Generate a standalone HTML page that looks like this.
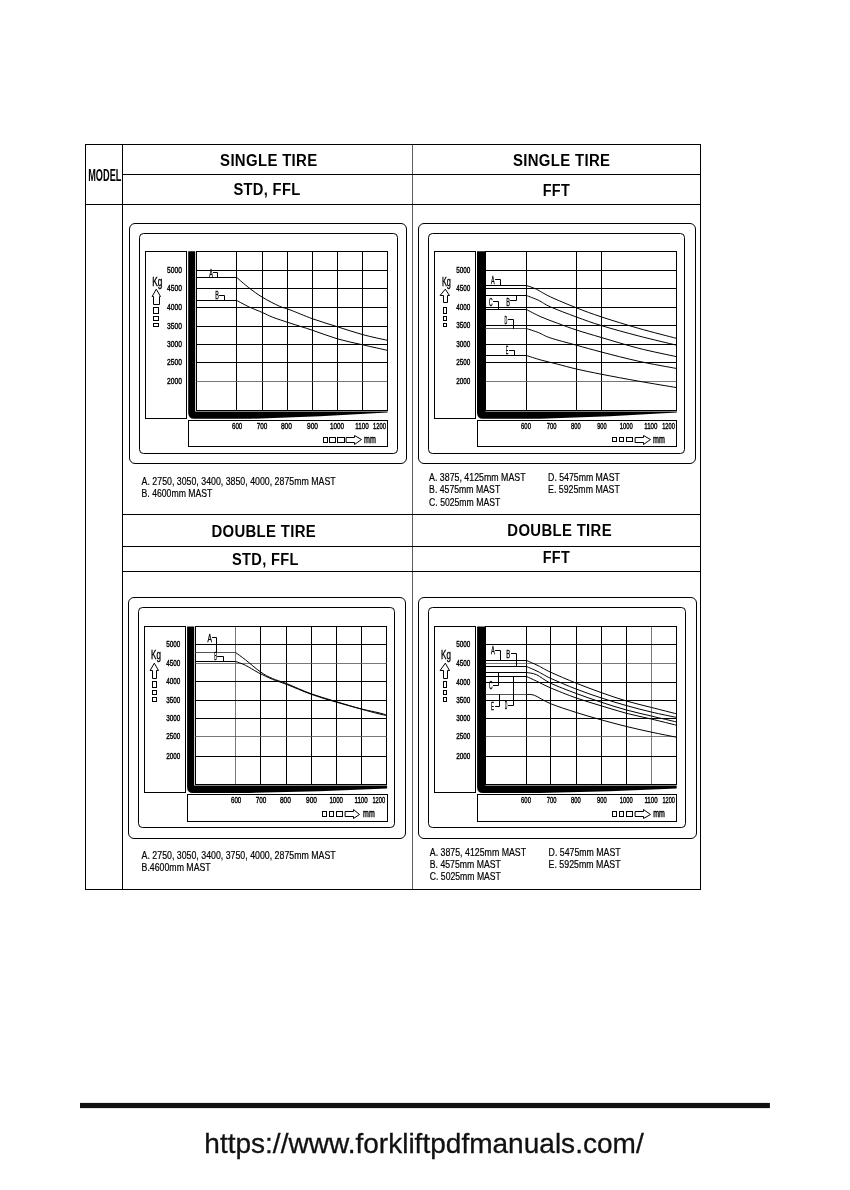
<!DOCTYPE html>
<html lang="en">
<head>
<meta charset="utf-8">
<title>Load capacity charts</title>
<style>
html,body{margin:0;padding:0;background:#fff;}
body{width:850px;height:1190px;overflow:hidden;position:relative;font-family:"Liberation Sans",sans-serif;}
svg{position:absolute;left:0;top:0;display:block;}
svg text{font-family:"Liberation Sans",sans-serif;}
</style>
</head>
<body>
<svg width="850" height="1190" viewBox="0 0 850 1190">

<rect x="85.50" y="144.50" width="615.00" height="745.00" fill="none" stroke="#000" stroke-width="1.0"/>
<line x1="122.50" y1="144.40" x2="122.50" y2="889.40" stroke="#000" stroke-width="1.0"/>
<line x1="412.50" y1="144.40" x2="412.50" y2="889.40" stroke="#333" stroke-width="0.8"/>
<line x1="122.60" y1="174.50" x2="700.70" y2="174.50" stroke="#000" stroke-width="1.0"/>
<line x1="85.30" y1="204.50" x2="700.70" y2="204.50" stroke="#000" stroke-width="1.0"/>
<line x1="122.60" y1="514.50" x2="700.70" y2="514.50" stroke="#000" stroke-width="1.0"/>
<line x1="122.60" y1="546.50" x2="700.70" y2="546.50" stroke="#000" stroke-width="1.0"/>
<line x1="122.60" y1="571.50" x2="700.70" y2="571.50" stroke="#000" stroke-width="1.0"/>
<text x="88.20" y="180.80" font-size="16.6" font-weight="bold" fill="#000" textLength="33.20" lengthAdjust="spacingAndGlyphs">MODEL</text>
<text x="220.10" y="165.90" font-size="15.8" font-weight="bold" fill="#000" textLength="97.40" lengthAdjust="spacingAndGlyphs" letter-spacing="0.35">SINGLE TIRE</text>
<text x="233.40" y="195.30" font-size="15.8" font-weight="bold" fill="#000" textLength="67.10" lengthAdjust="spacingAndGlyphs" letter-spacing="0.35">STD, FFL</text>
<text x="513.00" y="165.90" font-size="15.8" font-weight="bold" fill="#000" textLength="97.30" lengthAdjust="spacingAndGlyphs" letter-spacing="0.35">SINGLE TIRE</text>
<text x="542.70" y="195.50" font-size="15.8" font-weight="bold" fill="#000" textLength="27.40" lengthAdjust="spacingAndGlyphs" letter-spacing="0.35">FFT</text>
<text x="211.40" y="537.20" font-size="15.8" font-weight="bold" fill="#000" textLength="104.60" lengthAdjust="spacingAndGlyphs" letter-spacing="0.35">DOUBLE TIRE</text>
<text x="232.00" y="564.80" font-size="15.8" font-weight="bold" fill="#000" textLength="66.70" lengthAdjust="spacingAndGlyphs" letter-spacing="0.35">STD, FFL</text>
<text x="507.30" y="536.40" font-size="15.8" font-weight="bold" fill="#000" textLength="104.60" lengthAdjust="spacingAndGlyphs" letter-spacing="0.35">DOUBLE TIRE</text>
<text x="542.70" y="562.70" font-size="15.8" font-weight="bold" fill="#000" textLength="27.40" lengthAdjust="spacingAndGlyphs" letter-spacing="0.35">FFT</text>
<rect x="129.50" y="223.50" width="277.00" height="240.00" rx="5.5" ry="5.5" fill="none" stroke="#000" stroke-width="1.0"/>
<rect x="139.50" y="233.50" width="258.00" height="220.00" rx="4" ry="4" fill="none" stroke="#000" stroke-width="1.0"/>
<rect x="145.50" y="251.50" width="41.00" height="167.00" fill="none" stroke="#000" stroke-width="1.0"/>
<rect x="188.50" y="420.50" width="199.00" height="26.00" fill="none" stroke="#000" stroke-width="1.0"/>
<rect x="196.50" y="251.50" width="191.00" height="159.00" fill="none" stroke="#000" stroke-width="1.0"/>
<line x1="236.50" y1="251.50" x2="236.50" y2="410.40" stroke="#000" stroke-width="1.0"/>
<line x1="262.50" y1="251.50" x2="262.50" y2="410.40" stroke="#000" stroke-width="1.0"/>
<line x1="287.50" y1="251.50" x2="287.50" y2="410.40" stroke="#000" stroke-width="1.0"/>
<line x1="312.50" y1="251.50" x2="312.50" y2="410.40" stroke="#000" stroke-width="1.0"/>
<line x1="337.50" y1="251.50" x2="337.50" y2="410.40" stroke="#000" stroke-width="1.0"/>
<line x1="362.50" y1="251.50" x2="362.50" y2="410.40" stroke="#000" stroke-width="1.0"/>
<line x1="196.40" y1="270.50" x2="387.30" y2="270.50" stroke="#000" stroke-width="1.0"/>
<line x1="196.40" y1="288.50" x2="387.30" y2="288.50" stroke="#000" stroke-width="1.0"/>
<line x1="196.40" y1="307.50" x2="387.30" y2="307.50" stroke="#000" stroke-width="1.0"/>
<line x1="196.40" y1="326.50" x2="387.30" y2="326.50" stroke="#000" stroke-width="1.0"/>
<line x1="196.40" y1="344.50" x2="387.30" y2="344.50" stroke="#000" stroke-width="1.0"/>
<line x1="196.40" y1="362.50" x2="387.30" y2="362.50" stroke="#000" stroke-width="1.0"/>
<line x1="196.40" y1="381.50" x2="387.30" y2="381.50" stroke="#555" stroke-width="0.8"/>
<path d="M188.20 251.30 L195.20 251.30 L195.20 411.50 L387.60 411.50 L387.60 412.40 L320.18 416.30 L250.00 418.80 L194.20 418.80 Q188.20 418.80 188.20 412.80 Z" fill="#000" stroke="none"/>
<text x="167.10" y="272.60" font-size="8.9" font-weight="normal" fill="#000" textLength="14.90" lengthAdjust="spacingAndGlyphs" stroke="#000" stroke-width="0.4">5000</text>
<text x="167.10" y="291.10" font-size="8.9" font-weight="normal" fill="#000" textLength="14.90" lengthAdjust="spacingAndGlyphs" stroke="#000" stroke-width="0.4">4500</text>
<text x="167.10" y="309.90" font-size="8.9" font-weight="normal" fill="#000" textLength="14.90" lengthAdjust="spacingAndGlyphs" stroke="#000" stroke-width="0.4">4000</text>
<text x="167.10" y="329.10" font-size="8.9" font-weight="normal" fill="#000" textLength="14.90" lengthAdjust="spacingAndGlyphs" stroke="#000" stroke-width="0.4">3500</text>
<text x="167.10" y="347.10" font-size="8.9" font-weight="normal" fill="#000" textLength="14.90" lengthAdjust="spacingAndGlyphs" stroke="#000" stroke-width="0.4">3000</text>
<text x="167.10" y="365.00" font-size="8.9" font-weight="normal" fill="#000" textLength="14.90" lengthAdjust="spacingAndGlyphs" stroke="#000" stroke-width="0.4">2500</text>
<text x="167.10" y="384.00" font-size="8.9" font-weight="normal" fill="#000" textLength="14.90" lengthAdjust="spacingAndGlyphs" stroke="#000" stroke-width="0.4">2000</text>
<text x="152.30" y="285.60" font-size="12.6" font-weight="normal" fill="#000" textLength="10.10" lengthAdjust="spacingAndGlyphs" stroke="#000" stroke-width="0.4">Kg</text>
<path d="M156.50 289.50 L160.50 296.50 L159.50 296.50 L159.50 304.50 L153.50 304.50 L153.50 296.50 L152.50 296.50 Z" fill="none" stroke="#000" stroke-width="1" stroke-linejoin="round" stroke-linecap="round"/>
<rect x="153.50" y="307.50" width="5.00" height="6.00" fill="none" stroke="#000" stroke-width="1"/>
<rect x="153.50" y="316.50" width="5.00" height="4.00" fill="none" stroke="#000" stroke-width="1"/>
<rect x="153.50" y="323.50" width="5.00" height="3.00" fill="none" stroke="#000" stroke-width="1"/>
<text x="232.00" y="428.50" font-size="8.7" font-weight="normal" fill="#000" textLength="10.30" lengthAdjust="spacingAndGlyphs" stroke="#000" stroke-width="0.4">600</text>
<text x="256.80" y="428.50" font-size="8.7" font-weight="normal" fill="#000" textLength="10.60" lengthAdjust="spacingAndGlyphs" stroke="#000" stroke-width="0.4">700</text>
<text x="280.90" y="428.50" font-size="8.7" font-weight="normal" fill="#000" textLength="11.10" lengthAdjust="spacingAndGlyphs" stroke="#000" stroke-width="0.4">800</text>
<text x="307.00" y="428.50" font-size="8.7" font-weight="normal" fill="#000" textLength="11.00" lengthAdjust="spacingAndGlyphs" stroke="#000" stroke-width="0.4">900</text>
<text x="330.00" y="428.50" font-size="8.7" font-weight="normal" fill="#000" textLength="14.10" lengthAdjust="spacingAndGlyphs" stroke="#000" stroke-width="0.4">1000</text>
<text x="355.30" y="428.50" font-size="8.7" font-weight="normal" fill="#000" textLength="13.50" lengthAdjust="spacingAndGlyphs" stroke="#000" stroke-width="0.4">1100</text>
<text x="373.00" y="428.50" font-size="8.7" font-weight="normal" fill="#000" textLength="12.90" lengthAdjust="spacingAndGlyphs" stroke="#000" stroke-width="0.4">1200</text>
<rect x="323.50" y="437.50" width="4.00" height="5.00" fill="none" stroke="#000" stroke-width="1"/>
<rect x="329.50" y="437.50" width="6.00" height="5.00" fill="none" stroke="#000" stroke-width="1"/>
<rect x="337.50" y="437.50" width="7.00" height="5.00" fill="none" stroke="#000" stroke-width="1"/>
<path d="M346.50 437.50 L354.50 437.50 L354.50 435.50 L361.50 439.50 L354.50 444.50 L354.50 442.50 L346.50 442.50 Z" fill="none" stroke="#000" stroke-width="1" stroke-linejoin="round" stroke-linecap="round"/>
<text x="364.10" y="442.90" font-size="10.4" font-weight="normal" fill="#000" textLength="11.80" lengthAdjust="spacingAndGlyphs" stroke="#000" stroke-width="0.45">mm</text>
<line x1="196.40" y1="277.50" x2="236.80" y2="277.50" stroke="#000" stroke-width="1.0"/>
<path d="M236.80 277.50 C238.80 279.20 244.50 284.38 248.80 287.70 C253.10 291.02 257.50 294.32 262.60 297.40 C267.70 300.48 274.83 304.13 279.40 306.20 C283.97 308.27 284.47 307.70 290.00 309.80 C295.53 311.90 304.67 315.97 312.60 318.80 C320.53 321.63 329.27 324.17 337.60 326.80 C345.93 329.43 354.32 332.35 362.60 334.60 C370.88 336.85 383.18 339.35 387.30 340.30" fill="none" stroke="#000" stroke-width="1.0"/>
<line x1="196.40" y1="300.50" x2="236.80" y2="300.50" stroke="#000" stroke-width="1.0"/>
<path d="M236.80 300.50 C238.80 301.55 244.50 304.78 248.80 306.80 C253.10 308.82 258.67 310.88 262.60 312.60 C266.53 314.32 267.83 315.35 272.40 317.10 C276.97 318.85 283.30 320.90 290.00 323.10 C296.70 325.30 304.67 327.67 312.60 330.30 C320.53 332.93 329.27 336.48 337.60 338.90 C345.93 341.32 354.32 342.90 362.60 344.80 C370.88 346.70 383.18 349.38 387.30 350.30" fill="none" stroke="#000" stroke-width="1.0"/>
<text x="209.20" y="276.60" font-size="10.6" font-weight="normal" fill="#000" textLength="3.60" lengthAdjust="spacingAndGlyphs" stroke="#000" stroke-width="0.35">A</text>
<path d="M213.50 272.50 L217.50 272.50 L217.50 277.50" fill="none" stroke="#000" stroke-width="1" stroke-linejoin="round" stroke-linecap="round"/>
<text x="215.30" y="299.00" font-size="10.6" font-weight="normal" fill="#000" textLength="3.60" lengthAdjust="spacingAndGlyphs" stroke="#000" stroke-width="0.35">B</text>
<path d="M219.50 295.50 L224.50 295.50 L224.50 300.50" fill="none" stroke="#000" stroke-width="1" stroke-linejoin="round" stroke-linecap="round"/>
<rect x="418.50" y="223.50" width="277.00" height="240.00" rx="5.5" ry="5.5" fill="none" stroke="#000" stroke-width="1.0"/>
<rect x="428.50" y="233.50" width="256.00" height="220.00" rx="4" ry="4" fill="none" stroke="#000" stroke-width="1.0"/>
<rect x="434.50" y="251.50" width="41.00" height="167.00" fill="none" stroke="#000" stroke-width="1.0"/>
<rect x="477.50" y="420.50" width="199.00" height="26.00" fill="none" stroke="#000" stroke-width="1.0"/>
<rect x="485.50" y="251.50" width="191.00" height="159.00" fill="none" stroke="#000" stroke-width="1.0"/>
<line x1="526.50" y1="251.50" x2="526.50" y2="410.30" stroke="#000" stroke-width="1.0"/>
<line x1="576.50" y1="251.50" x2="576.50" y2="410.30" stroke="#000" stroke-width="1.0"/>
<line x1="601.50" y1="251.50" x2="601.50" y2="410.30" stroke="#000" stroke-width="1.0"/>
<line x1="485.40" y1="270.50" x2="676.60" y2="270.50" stroke="#000" stroke-width="1.0"/>
<line x1="485.40" y1="288.50" x2="676.60" y2="288.50" stroke="#000" stroke-width="1.0"/>
<line x1="485.40" y1="307.50" x2="676.60" y2="307.50" stroke="#000" stroke-width="1.0"/>
<line x1="485.40" y1="325.50" x2="676.60" y2="325.50" stroke="#000" stroke-width="1.0"/>
<line x1="485.40" y1="344.50" x2="676.60" y2="344.50" stroke="#000" stroke-width="1.0"/>
<line x1="485.40" y1="362.50" x2="676.60" y2="362.50" stroke="#000" stroke-width="1.0"/>
<line x1="485.40" y1="381.50" x2="676.60" y2="381.50" stroke="#555" stroke-width="0.8"/>
<path d="M477.00 251.30 L485.40 251.30 L485.40 411.50 L676.90 411.50 L676.90 412.40 L609.82 416.30 L540.00 418.80 L483.00 418.80 Q477.00 418.80 477.00 412.80 Z" fill="#000" stroke="none"/>
<text x="456.20" y="272.80" font-size="8.9" font-weight="normal" fill="#000" textLength="14.10" lengthAdjust="spacingAndGlyphs" stroke="#000" stroke-width="0.4">5000</text>
<text x="456.20" y="290.90" font-size="8.9" font-weight="normal" fill="#000" textLength="14.10" lengthAdjust="spacingAndGlyphs" stroke="#000" stroke-width="0.4">4500</text>
<text x="456.20" y="309.90" font-size="8.9" font-weight="normal" fill="#000" textLength="14.10" lengthAdjust="spacingAndGlyphs" stroke="#000" stroke-width="0.4">4000</text>
<text x="456.20" y="328.00" font-size="8.9" font-weight="normal" fill="#000" textLength="14.10" lengthAdjust="spacingAndGlyphs" stroke="#000" stroke-width="0.4">3500</text>
<text x="456.20" y="347.00" font-size="8.9" font-weight="normal" fill="#000" textLength="14.10" lengthAdjust="spacingAndGlyphs" stroke="#000" stroke-width="0.4">3000</text>
<text x="456.20" y="364.80" font-size="8.9" font-weight="normal" fill="#000" textLength="14.10" lengthAdjust="spacingAndGlyphs" stroke="#000" stroke-width="0.4">2500</text>
<text x="456.20" y="384.00" font-size="8.9" font-weight="normal" fill="#000" textLength="14.10" lengthAdjust="spacingAndGlyphs" stroke="#000" stroke-width="0.4">2000</text>
<text x="442.00" y="285.60" font-size="12.6" font-weight="normal" fill="#000" textLength="8.90" lengthAdjust="spacingAndGlyphs" stroke="#000" stroke-width="0.4">Kg</text>
<path d="M445.50 289.50 L449.50 295.50 L447.50 295.50 L447.50 302.50 L443.50 302.50 L443.50 295.50 L440.50 295.50 Z" fill="none" stroke="#000" stroke-width="1" stroke-linejoin="round" stroke-linecap="round"/>
<rect x="443.50" y="307.50" width="3.00" height="6.00" fill="none" stroke="#000" stroke-width="1"/>
<rect x="443.50" y="316.50" width="3.00" height="4.00" fill="none" stroke="#000" stroke-width="1"/>
<rect x="443.50" y="323.50" width="3.00" height="3.00" fill="none" stroke="#000" stroke-width="1"/>
<text x="521.10" y="428.50" font-size="8.7" font-weight="normal" fill="#000" textLength="9.80" lengthAdjust="spacingAndGlyphs" stroke="#000" stroke-width="0.4">600</text>
<text x="546.80" y="428.50" font-size="8.7" font-weight="normal" fill="#000" textLength="9.70" lengthAdjust="spacingAndGlyphs" stroke="#000" stroke-width="0.4">700</text>
<text x="571.00" y="428.50" font-size="8.7" font-weight="normal" fill="#000" textLength="9.70" lengthAdjust="spacingAndGlyphs" stroke="#000" stroke-width="0.4">800</text>
<text x="597.20" y="428.50" font-size="8.7" font-weight="normal" fill="#000" textLength="9.50" lengthAdjust="spacingAndGlyphs" stroke="#000" stroke-width="0.4">900</text>
<text x="619.70" y="428.50" font-size="8.7" font-weight="normal" fill="#000" textLength="13.00" lengthAdjust="spacingAndGlyphs" stroke="#000" stroke-width="0.4">1000</text>
<text x="644.20" y="428.50" font-size="8.7" font-weight="normal" fill="#000" textLength="13.30" lengthAdjust="spacingAndGlyphs" stroke="#000" stroke-width="0.4">1100</text>
<text x="662.20" y="428.50" font-size="8.7" font-weight="normal" fill="#000" textLength="12.60" lengthAdjust="spacingAndGlyphs" stroke="#000" stroke-width="0.4">1200</text>
<rect x="612.50" y="437.50" width="4.00" height="4.00" fill="none" stroke="#000" stroke-width="1"/>
<rect x="619.50" y="437.50" width="4.00" height="4.00" fill="none" stroke="#000" stroke-width="1"/>
<rect x="626.50" y="437.50" width="6.00" height="4.00" fill="none" stroke="#000" stroke-width="1"/>
<path d="M635.50 437.50 L643.50 437.50 L643.50 435.50 L650.50 439.50 L643.50 444.50 L643.50 442.50 L635.50 442.50 Z" fill="none" stroke="#000" stroke-width="1" stroke-linejoin="round" stroke-linecap="round"/>
<text x="653.00" y="443.00" font-size="10.4" font-weight="normal" fill="#000" textLength="11.80" lengthAdjust="spacingAndGlyphs" stroke="#000" stroke-width="0.45">mm</text>
<line x1="485.40" y1="285.50" x2="526.40" y2="285.50" stroke="#000" stroke-width="1.0"/>
<path d="M526.40 285.50 C528.03 286.10 532.22 287.22 536.20 289.10 C540.18 290.98 543.60 293.68 550.30 296.80 C557.00 299.92 567.83 304.43 576.40 307.80 C584.97 311.17 591.30 313.57 601.70 317.00 C612.10 320.43 626.32 324.83 638.80 328.40 C651.28 331.97 670.30 336.73 676.60 338.40" fill="none" stroke="#000" stroke-width="1.0"/>
<line x1="485.40" y1="295.50" x2="526.40" y2="295.50" stroke="#000" stroke-width="1.0"/>
<path d="M526.40 295.50 C528.42 296.30 534.52 298.42 538.50 300.30 C542.48 302.18 543.98 304.02 550.30 306.80 C556.62 309.58 567.83 313.85 576.40 317.00 C584.97 320.15 591.30 322.53 601.70 325.70 C612.10 328.87 626.32 332.75 638.80 336.00 C651.28 339.25 670.30 343.67 676.60 345.20" fill="none" stroke="#000" stroke-width="1.0"/>
<line x1="485.40" y1="309.50" x2="526.40" y2="309.50" stroke="#000" stroke-width="1.0"/>
<path d="M526.40 309.50 C528.82 310.72 535.73 314.52 540.90 316.80 C546.07 319.08 551.48 321.00 557.40 323.20 C563.32 325.40 569.02 327.60 576.40 330.00 C583.78 332.40 591.30 334.55 601.70 337.60 C612.10 340.65 626.32 345.12 638.80 348.30 C651.28 351.48 670.30 355.30 676.60 356.70" fill="none" stroke="#000" stroke-width="1.0"/>
<line x1="485.40" y1="328.50" x2="526.40" y2="328.50" stroke="#555" stroke-width="1.0"/>
<path d="M526.40 328.50 C528.42 329.18 534.52 331.03 538.50 332.60 C542.48 334.17 543.98 335.80 550.30 337.90 C556.62 340.00 567.83 342.83 576.40 345.20 C584.97 347.57 591.30 349.42 601.70 352.10 C612.10 354.78 626.32 358.57 638.80 361.30 C651.28 364.03 670.30 367.30 676.60 368.50" fill="none" stroke="#000" stroke-width="1.0"/>
<line x1="485.40" y1="355.50" x2="526.40" y2="355.50" stroke="#000" stroke-width="1.0"/>
<path d="M526.40 355.50 C528.82 356.25 535.73 358.57 540.90 360.00 C546.07 361.43 551.48 362.60 557.40 364.10 C563.32 365.60 569.02 367.30 576.40 369.00 C583.78 370.70 591.30 372.27 601.70 374.30 C612.10 376.33 626.32 378.98 638.80 381.20 C651.28 383.42 670.30 386.53 676.60 387.60" fill="none" stroke="#000" stroke-width="1.0"/>
<text x="491.00" y="283.80" font-size="10.6" font-weight="normal" fill="#000" textLength="3.60" lengthAdjust="spacingAndGlyphs" stroke="#000" stroke-width="0.35">A</text>
<path d="M495.50 279.50 L500.50 279.50 L500.50 285.50" fill="none" stroke="#000" stroke-width="1" stroke-linejoin="round" stroke-linecap="round"/>
<text x="489.10" y="305.60" font-size="10.6" font-weight="normal" fill="#000" textLength="3.60" lengthAdjust="spacingAndGlyphs" stroke="#000" stroke-width="0.35">C</text>
<path d="M493.50 301.50 L498.50 301.50 L498.50 309.50" fill="none" stroke="#000" stroke-width="1" stroke-linejoin="round" stroke-linecap="round"/>
<text x="506.20" y="305.60" font-size="10.6" font-weight="normal" fill="#000" textLength="3.70" lengthAdjust="spacingAndGlyphs" stroke="#000" stroke-width="0.35">B</text>
<path d="M510.50 300.50 L516.50 300.50 L516.50 295.50" fill="none" stroke="#000" stroke-width="1" stroke-linejoin="round" stroke-linecap="round"/>
<text x="504.60" y="323.80" font-size="10.6" font-weight="normal" fill="#000" textLength="2.80" lengthAdjust="spacingAndGlyphs" stroke="#000" stroke-width="0.35">D</text>
<path d="M508.50 319.50 L513.50 319.50 L513.50 328.50" fill="none" stroke="#000" stroke-width="1" stroke-linejoin="round" stroke-linecap="round"/>
<text x="505.80" y="354.00" font-size="10.6" font-weight="normal" fill="#000" textLength="2.60" lengthAdjust="spacingAndGlyphs" stroke="#000" stroke-width="0.35">E</text>
<path d="M509.50 350.50 L514.50 350.50 L514.50 355.50" fill="none" stroke="#000" stroke-width="1" stroke-linejoin="round" stroke-linecap="round"/>
<rect x="128.50" y="597.50" width="277.00" height="241.00" rx="5.5" ry="5.5" fill="none" stroke="#000" stroke-width="1.0"/>
<rect x="138.50" y="607.50" width="256.00" height="220.00" rx="4" ry="4" fill="none" stroke="#000" stroke-width="1.0"/>
<rect x="144.50" y="626.50" width="41.00" height="166.00" fill="none" stroke="#000" stroke-width="1.0"/>
<rect x="187.50" y="794.50" width="200.00" height="27.00" fill="none" stroke="#000" stroke-width="1.0"/>
<rect x="195.50" y="626.50" width="191.00" height="158.00" fill="none" stroke="#000" stroke-width="1.0"/>
<line x1="235.50" y1="626.50" x2="235.50" y2="784.20" stroke="#555" stroke-width="0.8"/>
<line x1="260.50" y1="626.50" x2="260.50" y2="784.20" stroke="#000" stroke-width="1.0"/>
<line x1="286.50" y1="626.50" x2="286.50" y2="784.20" stroke="#000" stroke-width="1.0"/>
<line x1="311.50" y1="626.50" x2="311.50" y2="784.20" stroke="#000" stroke-width="1.0"/>
<line x1="336.50" y1="626.50" x2="336.50" y2="784.20" stroke="#000" stroke-width="1.0"/>
<line x1="361.50" y1="626.50" x2="361.50" y2="784.20" stroke="#000" stroke-width="1.0"/>
<line x1="195.30" y1="644.50" x2="386.80" y2="644.50" stroke="#000" stroke-width="1.0"/>
<line x1="195.30" y1="663.50" x2="386.80" y2="663.50" stroke="#555" stroke-width="0.8"/>
<line x1="195.30" y1="681.50" x2="386.80" y2="681.50" stroke="#000" stroke-width="1.0"/>
<line x1="195.30" y1="700.50" x2="386.80" y2="700.50" stroke="#000" stroke-width="1.0"/>
<line x1="195.30" y1="718.50" x2="386.80" y2="718.50" stroke="#000" stroke-width="1.0"/>
<line x1="195.30" y1="736.50" x2="386.80" y2="736.50" stroke="#555" stroke-width="0.8"/>
<line x1="195.30" y1="756.50" x2="386.80" y2="756.50" stroke="#000" stroke-width="1.0"/>
<path d="M187.10 626.50 L194.20 626.50 L194.20 785.60 L387.10 785.60 L387.10 788.40 L319.43 791.14 L249.00 792.90 L193.10 792.90 Q187.10 792.90 187.10 786.90 Z" fill="#000" stroke="none"/>
<text x="166.20" y="646.70" font-size="8.9" font-weight="normal" fill="#000" textLength="14.10" lengthAdjust="spacingAndGlyphs" stroke="#000" stroke-width="0.4">5000</text>
<text x="166.20" y="665.70" font-size="8.9" font-weight="normal" fill="#000" textLength="14.10" lengthAdjust="spacingAndGlyphs" stroke="#000" stroke-width="0.4">4500</text>
<text x="166.20" y="684.10" font-size="8.9" font-weight="normal" fill="#000" textLength="14.10" lengthAdjust="spacingAndGlyphs" stroke="#000" stroke-width="0.4">4000</text>
<text x="166.20" y="703.00" font-size="8.9" font-weight="normal" fill="#000" textLength="14.10" lengthAdjust="spacingAndGlyphs" stroke="#000" stroke-width="0.4">3500</text>
<text x="166.20" y="721.00" font-size="8.9" font-weight="normal" fill="#000" textLength="14.10" lengthAdjust="spacingAndGlyphs" stroke="#000" stroke-width="0.4">3000</text>
<text x="166.20" y="739.20" font-size="8.9" font-weight="normal" fill="#000" textLength="14.10" lengthAdjust="spacingAndGlyphs" stroke="#000" stroke-width="0.4">2500</text>
<text x="166.20" y="759.00" font-size="8.9" font-weight="normal" fill="#000" textLength="14.10" lengthAdjust="spacingAndGlyphs" stroke="#000" stroke-width="0.4">2000</text>
<text x="151.10" y="659.40" font-size="12.6" font-weight="normal" fill="#000" textLength="9.80" lengthAdjust="spacingAndGlyphs" stroke="#000" stroke-width="0.4">Kg</text>
<path d="M154.50 663.50 L158.50 670.50 L156.50 670.50 L156.50 678.50 L152.50 678.50 L152.50 670.50 L150.50 670.50 Z" fill="none" stroke="#000" stroke-width="1" stroke-linejoin="round" stroke-linecap="round"/>
<rect x="152.50" y="681.50" width="4.00" height="6.00" fill="none" stroke="#000" stroke-width="1"/>
<rect x="152.50" y="690.50" width="4.00" height="4.00" fill="none" stroke="#000" stroke-width="1"/>
<rect x="152.50" y="697.50" width="4.00" height="4.00" fill="none" stroke="#000" stroke-width="1"/>
<text x="231.00" y="802.80" font-size="8.7" font-weight="normal" fill="#000" textLength="10.30" lengthAdjust="spacingAndGlyphs" stroke="#000" stroke-width="0.4">600</text>
<text x="255.80" y="802.80" font-size="8.7" font-weight="normal" fill="#000" textLength="10.60" lengthAdjust="spacingAndGlyphs" stroke="#000" stroke-width="0.4">700</text>
<text x="279.90" y="802.80" font-size="8.7" font-weight="normal" fill="#000" textLength="11.10" lengthAdjust="spacingAndGlyphs" stroke="#000" stroke-width="0.4">800</text>
<text x="306.00" y="802.80" font-size="8.7" font-weight="normal" fill="#000" textLength="11.00" lengthAdjust="spacingAndGlyphs" stroke="#000" stroke-width="0.4">900</text>
<text x="329.40" y="802.80" font-size="8.7" font-weight="normal" fill="#000" textLength="13.60" lengthAdjust="spacingAndGlyphs" stroke="#000" stroke-width="0.4">1000</text>
<text x="354.40" y="802.80" font-size="8.7" font-weight="normal" fill="#000" textLength="13.40" lengthAdjust="spacingAndGlyphs" stroke="#000" stroke-width="0.4">1100</text>
<text x="372.40" y="802.80" font-size="8.7" font-weight="normal" fill="#000" textLength="12.70" lengthAdjust="spacingAndGlyphs" stroke="#000" stroke-width="0.4">1200</text>
<rect x="322.50" y="811.50" width="4.00" height="5.00" fill="none" stroke="#000" stroke-width="1"/>
<rect x="329.50" y="811.50" width="4.00" height="5.00" fill="none" stroke="#000" stroke-width="1"/>
<rect x="336.50" y="811.50" width="6.00" height="5.00" fill="none" stroke="#000" stroke-width="1"/>
<path d="M345.50 811.50 L353.50 811.50 L353.50 809.50 L359.50 814.50 L353.50 818.50 L353.50 816.50 L345.50 816.50 Z" fill="none" stroke="#000" stroke-width="1" stroke-linejoin="round" stroke-linecap="round"/>
<text x="363.10" y="817.20" font-size="10.4" font-weight="normal" fill="#000" textLength="11.60" lengthAdjust="spacingAndGlyphs" stroke="#000" stroke-width="0.45">mm</text>
<line x1="195.30" y1="652.50" x2="235.60" y2="652.50" stroke="#555" stroke-width="1.0"/>
<path d="M235.60 652.50 C237.22 653.70 241.13 656.45 245.30 659.70 C249.47 662.95 256.08 668.87 260.60 672.00 C265.12 675.13 268.07 676.57 272.40 678.50 C276.73 680.43 280.08 681.03 286.60 683.60 C293.12 686.17 303.18 690.88 311.50 693.90 C319.82 696.92 328.15 699.15 336.50 701.70 C344.85 704.25 354.68 707.22 361.60 709.20 C368.52 711.18 373.80 712.53 378.00 713.60 C382.20 714.67 385.33 715.27 386.80 715.60" fill="none" stroke="#000" stroke-width="1.0"/>
<line x1="195.30" y1="661.50" x2="235.60" y2="661.50" stroke="#000" stroke-width="1.0"/>
<path d="M235.60 661.50 C237.22 662.12 241.53 663.35 245.30 665.20 C249.07 667.05 253.68 670.25 258.20 672.60 C262.72 674.95 267.67 677.33 272.40 679.30 C277.13 681.27 280.08 681.88 286.60 684.40 C293.12 686.92 303.18 691.43 311.50 694.40 C319.82 697.37 328.15 699.77 336.50 702.20 C344.85 704.63 354.68 707.27 361.60 709.00 C368.52 710.73 373.80 711.60 378.00 712.60 C382.20 713.60 385.33 714.60 386.80 715.00" fill="none" stroke="#000" stroke-width="1.0"/>
<text x="207.60" y="641.80" font-size="10.6" font-weight="normal" fill="#000" textLength="4.40" lengthAdjust="spacingAndGlyphs" stroke="#000" stroke-width="0.35">A</text>
<path d="M212.50 637.50 L216.50 637.50 L216.50 652.50" fill="none" stroke="#000" stroke-width="1" stroke-linejoin="round" stroke-linecap="round"/>
<text x="214.20" y="659.60" font-size="10.6" font-weight="normal" fill="#000" textLength="2.80" lengthAdjust="spacingAndGlyphs" stroke="#000" stroke-width="0.35">B</text>
<path d="M217.50 656.50 L223.50 656.50 L223.50 661.50" fill="none" stroke="#000" stroke-width="1" stroke-linejoin="round" stroke-linecap="round"/>
<rect x="418.50" y="597.50" width="278.00" height="241.00" rx="5.5" ry="5.5" fill="none" stroke="#000" stroke-width="1.0"/>
<rect x="428.50" y="607.50" width="257.00" height="220.00" rx="4" ry="4" fill="none" stroke="#000" stroke-width="1.0"/>
<rect x="434.50" y="626.50" width="41.00" height="166.00" fill="none" stroke="#000" stroke-width="1.0"/>
<rect x="477.50" y="794.50" width="199.00" height="27.00" fill="none" stroke="#000" stroke-width="1.0"/>
<rect x="485.50" y="626.50" width="191.00" height="158.00" fill="none" stroke="#000" stroke-width="1.0"/>
<line x1="526.50" y1="626.60" x2="526.50" y2="784.30" stroke="#000" stroke-width="1.0"/>
<line x1="550.50" y1="626.60" x2="550.50" y2="784.30" stroke="#000" stroke-width="1.0"/>
<line x1="576.50" y1="626.60" x2="576.50" y2="784.30" stroke="#000" stroke-width="1.0"/>
<line x1="601.50" y1="626.60" x2="601.50" y2="784.30" stroke="#000" stroke-width="1.0"/>
<line x1="626.50" y1="626.60" x2="626.50" y2="784.30" stroke="#000" stroke-width="1.0"/>
<line x1="651.50" y1="626.60" x2="651.50" y2="784.30" stroke="#555" stroke-width="0.8"/>
<line x1="485.40" y1="644.50" x2="676.40" y2="644.50" stroke="#000" stroke-width="1.0"/>
<line x1="485.40" y1="663.50" x2="676.40" y2="663.50" stroke="#555" stroke-width="0.8"/>
<line x1="485.40" y1="682.50" x2="676.40" y2="682.50" stroke="#000" stroke-width="1.0"/>
<line x1="485.40" y1="700.50" x2="676.40" y2="700.50" stroke="#000" stroke-width="1.0"/>
<line x1="485.40" y1="718.50" x2="676.40" y2="718.50" stroke="#000" stroke-width="1.0"/>
<line x1="485.40" y1="736.50" x2="676.40" y2="736.50" stroke="#555" stroke-width="0.8"/>
<line x1="485.40" y1="756.50" x2="676.40" y2="756.50" stroke="#000" stroke-width="1.0"/>
<path d="M477.10 626.50 L485.40 626.50 L485.40 785.60 L676.70 785.60 L676.70 788.40 L609.72 791.14 L540.00 792.90 L483.10 792.90 Q477.10 792.90 477.10 786.90 Z" fill="#000" stroke="none"/>
<text x="456.20" y="646.80" font-size="8.9" font-weight="normal" fill="#000" textLength="14.10" lengthAdjust="spacingAndGlyphs" stroke="#000" stroke-width="0.4">5000</text>
<text x="456.20" y="665.90" font-size="8.9" font-weight="normal" fill="#000" textLength="14.10" lengthAdjust="spacingAndGlyphs" stroke="#000" stroke-width="0.4">4500</text>
<text x="456.20" y="684.80" font-size="8.9" font-weight="normal" fill="#000" textLength="14.10" lengthAdjust="spacingAndGlyphs" stroke="#000" stroke-width="0.4">4000</text>
<text x="456.20" y="702.90" font-size="8.9" font-weight="normal" fill="#000" textLength="14.10" lengthAdjust="spacingAndGlyphs" stroke="#000" stroke-width="0.4">3500</text>
<text x="456.20" y="721.10" font-size="8.9" font-weight="normal" fill="#000" textLength="14.10" lengthAdjust="spacingAndGlyphs" stroke="#000" stroke-width="0.4">3000</text>
<text x="456.20" y="739.20" font-size="8.9" font-weight="normal" fill="#000" textLength="14.10" lengthAdjust="spacingAndGlyphs" stroke="#000" stroke-width="0.4">2500</text>
<text x="456.20" y="759.00" font-size="8.9" font-weight="normal" fill="#000" textLength="14.10" lengthAdjust="spacingAndGlyphs" stroke="#000" stroke-width="0.4">2000</text>
<text x="441.10" y="659.40" font-size="12.6" font-weight="normal" fill="#000" textLength="9.80" lengthAdjust="spacingAndGlyphs" stroke="#000" stroke-width="0.4">Kg</text>
<path d="M445.50 663.50 L449.50 670.50 L447.50 670.50 L447.50 678.50 L443.50 678.50 L443.50 670.50 L440.50 670.50 Z" fill="none" stroke="#000" stroke-width="1" stroke-linejoin="round" stroke-linecap="round"/>
<rect x="443.50" y="681.50" width="3.00" height="6.00" fill="none" stroke="#000" stroke-width="1"/>
<rect x="443.50" y="690.50" width="3.00" height="4.00" fill="none" stroke="#000" stroke-width="1"/>
<rect x="443.50" y="697.50" width="3.00" height="4.00" fill="none" stroke="#000" stroke-width="1"/>
<text x="521.10" y="802.80" font-size="8.7" font-weight="normal" fill="#000" textLength="9.80" lengthAdjust="spacingAndGlyphs" stroke="#000" stroke-width="0.4">600</text>
<text x="546.80" y="802.80" font-size="8.7" font-weight="normal" fill="#000" textLength="9.70" lengthAdjust="spacingAndGlyphs" stroke="#000" stroke-width="0.4">700</text>
<text x="571.00" y="802.80" font-size="8.7" font-weight="normal" fill="#000" textLength="9.70" lengthAdjust="spacingAndGlyphs" stroke="#000" stroke-width="0.4">800</text>
<text x="597.10" y="802.80" font-size="8.7" font-weight="normal" fill="#000" textLength="9.70" lengthAdjust="spacingAndGlyphs" stroke="#000" stroke-width="0.4">900</text>
<text x="619.80" y="802.80" font-size="8.7" font-weight="normal" fill="#000" textLength="12.90" lengthAdjust="spacingAndGlyphs" stroke="#000" stroke-width="0.4">1000</text>
<text x="644.40" y="802.80" font-size="8.7" font-weight="normal" fill="#000" textLength="13.20" lengthAdjust="spacingAndGlyphs" stroke="#000" stroke-width="0.4">1100</text>
<text x="662.50" y="802.80" font-size="8.7" font-weight="normal" fill="#000" textLength="12.50" lengthAdjust="spacingAndGlyphs" stroke="#000" stroke-width="0.4">1200</text>
<rect x="612.50" y="811.50" width="4.00" height="5.00" fill="none" stroke="#000" stroke-width="1"/>
<rect x="619.50" y="811.50" width="4.00" height="5.00" fill="none" stroke="#000" stroke-width="1"/>
<rect x="626.50" y="811.50" width="6.00" height="5.00" fill="none" stroke="#000" stroke-width="1"/>
<path d="M635.50 811.50 L643.50 811.50 L643.50 809.50 L650.50 814.50 L643.50 818.50 L643.50 816.50 L635.50 816.50 Z" fill="none" stroke="#000" stroke-width="1" stroke-linejoin="round" stroke-linecap="round"/>
<text x="653.20" y="817.20" font-size="10.4" font-weight="normal" fill="#000" textLength="11.60" lengthAdjust="spacingAndGlyphs" stroke="#000" stroke-width="0.45">mm</text>
<line x1="485.40" y1="660.50" x2="526.60" y2="660.50" stroke="#000" stroke-width="1.0"/>
<path d="M526.60 660.50 C528.50 661.35 534.03 663.67 538.00 665.60 C541.97 667.53 544.02 669.17 550.40 672.10 C556.78 675.03 567.78 679.77 576.30 683.20 C584.82 686.63 593.13 689.73 601.50 692.70 C609.87 695.67 618.15 698.53 626.50 701.00 C634.85 703.47 643.28 705.37 651.60 707.50 C659.92 709.63 672.27 712.75 676.40 713.80" fill="none" stroke="#000" stroke-width="1.0"/>
<line x1="485.40" y1="666.50" x2="526.60" y2="666.50" stroke="#000" stroke-width="1.0"/>
<path d="M526.60 666.50 C528.50 667.35 534.03 669.65 538.00 671.60 C541.97 673.55 544.02 675.28 550.40 678.20 C556.78 681.12 567.78 685.80 576.30 689.10 C584.82 692.40 593.13 695.25 601.50 698.00 C609.87 700.75 618.15 703.25 626.50 705.60 C634.85 707.95 643.28 710.13 651.60 712.10 C659.92 714.07 672.27 716.52 676.40 717.40" fill="none" stroke="#000" stroke-width="1.0"/>
<line x1="485.40" y1="672.50" x2="526.60" y2="672.50" stroke="#000" stroke-width="1.0"/>
<path d="M526.60 672.50 C528.25 672.87 532.53 672.93 536.50 674.70 C540.47 676.47 543.77 679.97 550.40 683.10 C557.03 686.23 567.78 690.30 576.30 693.50 C584.82 696.70 593.13 699.55 601.50 702.30 C609.87 705.05 618.15 707.70 626.50 710.00 C634.85 712.30 643.28 714.12 651.60 716.10 C659.92 718.08 672.27 720.93 676.40 721.90" fill="none" stroke="#000" stroke-width="1.0"/>
<line x1="485.40" y1="676.50" x2="526.60" y2="676.50" stroke="#000" stroke-width="1.0"/>
<path d="M526.60 676.50 C528.25 677.27 532.53 679.22 536.50 681.10 C540.47 682.98 543.77 684.98 550.40 687.80 C557.03 690.62 567.78 694.98 576.30 698.00 C584.82 701.02 593.13 703.35 601.50 705.90 C609.87 708.45 618.15 711.10 626.50 713.30 C634.85 715.50 643.28 717.12 651.60 719.10 C659.92 721.08 672.27 724.18 676.40 725.20" fill="none" stroke="#000" stroke-width="1.0"/>
<line x1="485.40" y1="694.50" x2="526.60" y2="694.50" stroke="#555" stroke-width="1.0"/>
<path d="M526.60 694.50 C527.93 694.65 530.63 693.88 534.60 695.40 C538.57 696.92 543.45 700.75 550.40 703.60 C557.35 706.45 567.78 709.78 576.30 712.50 C584.82 715.22 593.13 717.57 601.50 719.90 C609.87 722.23 618.15 724.45 626.50 726.50 C634.85 728.55 643.28 730.42 651.60 732.20 C659.92 733.98 672.27 736.37 676.40 737.20" fill="none" stroke="#000" stroke-width="1.0"/>
<text x="491.10" y="653.70" font-size="10.6" font-weight="normal" fill="#000" textLength="3.80" lengthAdjust="spacingAndGlyphs" stroke="#000" stroke-width="0.35">A</text>
<path d="M495.50 650.50 L500.50 650.50 L500.50 660.50" fill="none" stroke="#000" stroke-width="1" stroke-linejoin="round" stroke-linecap="round"/>
<text x="506.20" y="657.70" font-size="10.6" font-weight="normal" fill="#000" textLength="3.90" lengthAdjust="spacingAndGlyphs" stroke="#000" stroke-width="0.35">B</text>
<path d="M511.50 653.50 L516.50 653.50 L516.50 666.50" fill="none" stroke="#000" stroke-width="1" stroke-linejoin="round" stroke-linecap="round"/>
<text x="489.10" y="688.70" font-size="10.6" font-weight="normal" fill="#000" textLength="3.60" lengthAdjust="spacingAndGlyphs" stroke="#000" stroke-width="0.35">C</text>
<path d="M493.50 685.50 L498.50 685.50 L498.50 672.50" fill="none" stroke="#000" stroke-width="1" stroke-linejoin="round" stroke-linecap="round"/>
<text x="491.10" y="709.60" font-size="10.6" font-weight="normal" fill="#000" textLength="3.00" lengthAdjust="spacingAndGlyphs" stroke="#000" stroke-width="0.35">E</text>
<path d="M495.50 706.50 L499.50 706.50 L499.50 694.50" fill="none" stroke="#000" stroke-width="1" stroke-linejoin="round" stroke-linecap="round"/>
<text x="504.80" y="708.60" font-size="10.6" font-weight="normal" fill="#000" textLength="2.60" lengthAdjust="spacingAndGlyphs" stroke="#000" stroke-width="0.35">D</text>
<path d="M508.50 705.50 L513.50 705.50 L513.50 676.50" fill="none" stroke="#000" stroke-width="1" stroke-linejoin="round" stroke-linecap="round"/>
<text x="141.60" y="485.10" font-size="11" font-weight="normal" fill="#000" textLength="194.10" lengthAdjust="spacingAndGlyphs" stroke="#000" stroke-width="0.2">A. 2750, 3050, 3400, 3850, 4000, 2875mm MAST</text>
<text x="141.60" y="496.80" font-size="11" font-weight="normal" fill="#000" textLength="70.70" lengthAdjust="spacingAndGlyphs" stroke="#000" stroke-width="0.2">B. 4600mm MAST</text>
<text x="429.10" y="481.00" font-size="11" font-weight="normal" fill="#000" textLength="96.50" lengthAdjust="spacingAndGlyphs" stroke="#000" stroke-width="0.2">A. 3875, 4125mm MAST</text>
<text x="429.10" y="493.40" font-size="11" font-weight="normal" fill="#000" textLength="71.10" lengthAdjust="spacingAndGlyphs" stroke="#000" stroke-width="0.2">B. 4575mm MAST</text>
<text x="429.10" y="505.60" font-size="11" font-weight="normal" fill="#000" textLength="71.10" lengthAdjust="spacingAndGlyphs" stroke="#000" stroke-width="0.2">C. 5025mm MAST</text>
<text x="548.10" y="481.00" font-size="11" font-weight="normal" fill="#000" textLength="71.70" lengthAdjust="spacingAndGlyphs" stroke="#000" stroke-width="0.2">D. 5475mm MAST</text>
<text x="548.10" y="493.40" font-size="11" font-weight="normal" fill="#000" textLength="71.70" lengthAdjust="spacingAndGlyphs" stroke="#000" stroke-width="0.2">E. 5925mm MAST</text>
<text x="141.60" y="859.40" font-size="11" font-weight="normal" fill="#000" textLength="194.10" lengthAdjust="spacingAndGlyphs" stroke="#000" stroke-width="0.2">A. 2750, 3050, 3400, 3750, 4000, 2875mm MAST</text>
<text x="141.60" y="871.20" font-size="11" font-weight="normal" fill="#000" textLength="69.10" lengthAdjust="spacingAndGlyphs" stroke="#000" stroke-width="0.2">B.4600mm MAST</text>
<text x="429.80" y="855.60" font-size="11" font-weight="normal" fill="#000" textLength="96.30" lengthAdjust="spacingAndGlyphs" stroke="#000" stroke-width="0.2">A. 3875, 4125mm MAST</text>
<text x="429.80" y="867.80" font-size="11" font-weight="normal" fill="#000" textLength="71.10" lengthAdjust="spacingAndGlyphs" stroke="#000" stroke-width="0.2">B. 4575mm MAST</text>
<text x="429.80" y="879.90" font-size="11" font-weight="normal" fill="#000" textLength="71.10" lengthAdjust="spacingAndGlyphs" stroke="#000" stroke-width="0.2">C. 5025mm MAST</text>
<text x="548.60" y="855.60" font-size="11" font-weight="normal" fill="#000" textLength="72.00" lengthAdjust="spacingAndGlyphs" stroke="#000" stroke-width="0.2">D. 5475mm MAST</text>
<text x="548.60" y="867.80" font-size="11" font-weight="normal" fill="#000" textLength="72.00" lengthAdjust="spacingAndGlyphs" stroke="#000" stroke-width="0.2">E. 5925mm MAST</text>
<rect x="80" y="1102.9" width="689.9" height="5.2" fill="#111"/>
<text x="204.30" y="1153.30" font-size="27.9" font-weight="normal" fill="#111" textLength="439.40" lengthAdjust="spacingAndGlyphs" stroke="#111" stroke-width="0.3">https://www.forkliftpdfmanuals.com/</text>
</svg>
</body>
</html>
